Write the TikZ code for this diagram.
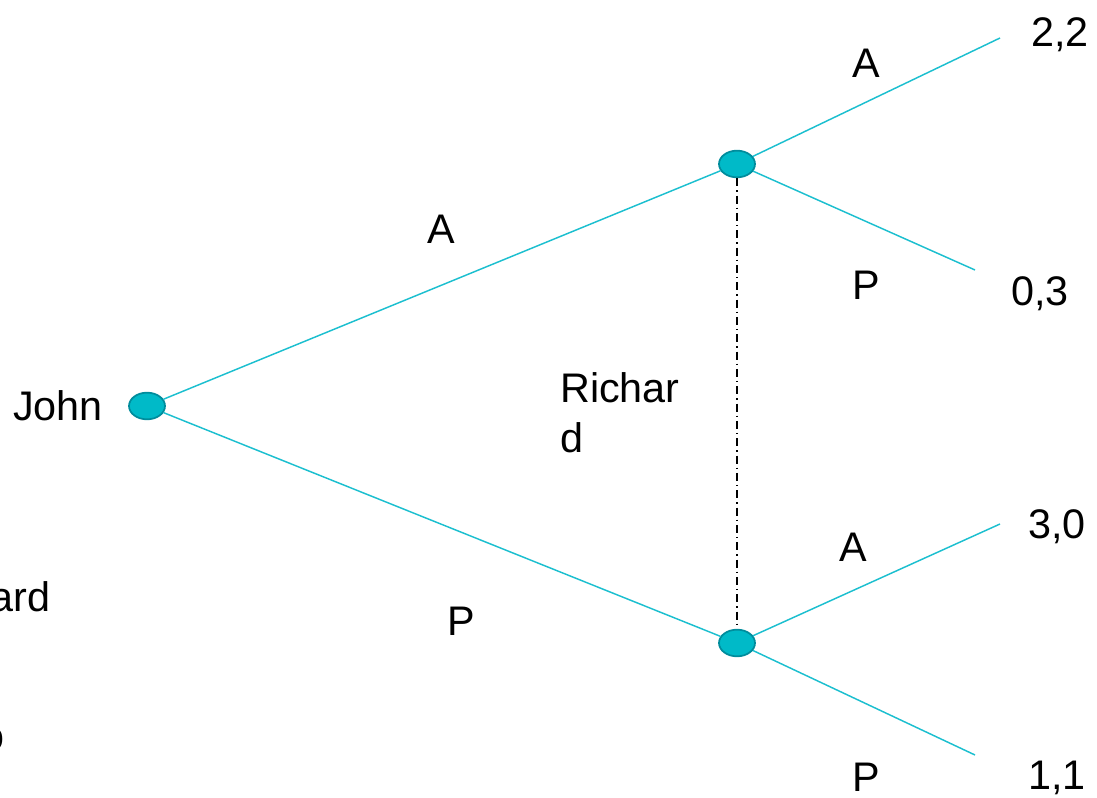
\documentclass[tikz,border=0pt]{standalone}
\usepackage{fontspec}
\setmainfont{Liberation Sans}
\usetikzlibrary{positioning,shapes.geometric}
\definecolor{gtCyan}{HTML}{00BAC8}
\definecolor{gtEdge}{HTML}{008C9C}
\definecolor{gtLine}{HTML}{1CBFCF}
\tikzset{
  dnode/.style={ellipse, draw=gtEdge, line width=1.3pt, fill=gtCyan, minimum width=27pt, minimum height=20pt, inner sep=0pt},
  move/.style={gtLine, line width=1.1pt},
  infoset/.style={black, line width=0.9pt, dash pattern=on 6pt off 3pt on 1pt off 3pt},
  lbl/.style={font=\fontsize{31}{37.5}\selectfont, inner sep=0pt, align=left},
}
\begin{document}
\begin{tikzpicture}[x=0.75pt,y=-0.75pt]
  \useasboundingbox (0,0) rectangle (1097,798);
  % decision nodes
  \node[dnode] (john) at (147,406) {};
  \node[dnode] (rtop) at (737,164) {};
  \node[dnode] (rbot) at (737,643) {};
  % leaves
  \coordinate (aa) at (1000,38);
  \coordinate (ap) at (975,270);
  \coordinate (pa) at (1000,524);
  \coordinate (pp) at (975,755);
  % moves
  \draw[move] (john) -- (rtop);
  \draw[move] (john) -- (rbot);
  \draw[move] (rtop) -- (aa);
  \draw[move] (rtop) -- (ap);
  \draw[move] (rbot) -- (pa);
  \draw[move] (rbot) -- (pp);
  % information set
  \draw[infoset] (rtop) -- (rbot);
  % labels
  \node[lbl, anchor=base east] (jname) at (103,421) {John};
  \node[lbl] (la) at (441,229) {A};
  \node[lbl] (lp) at (461,621) {P};
  \node[lbl] (laa) at (866,63) {A};
  \node[lbl] (lap) at (866,285) {P};
  \node[lbl] (lpa) at (853,547) {A};
  \node[lbl] (lpp) at (866,777) {P};
  \node[lbl] (paa) at (1060,35) {2,2};
  \node[lbl] (pap) at (1040,294) {0,3};
  \node[lbl] (ppa) at (1057,527) {3,0};
  \node[lbl] (ppp) at (1057,778) {1,1};
  \node[lbl, anchor=north west] (rname) at (560,372) {Richar\\d};
  % cut off at the left edge
  \node[lbl, anchor=base east] (rcut) at (51,612) {Richard};
  \node[lbl, anchor=base east] (ocut) at (5,750) {o};
\end{tikzpicture}
\end{document}
